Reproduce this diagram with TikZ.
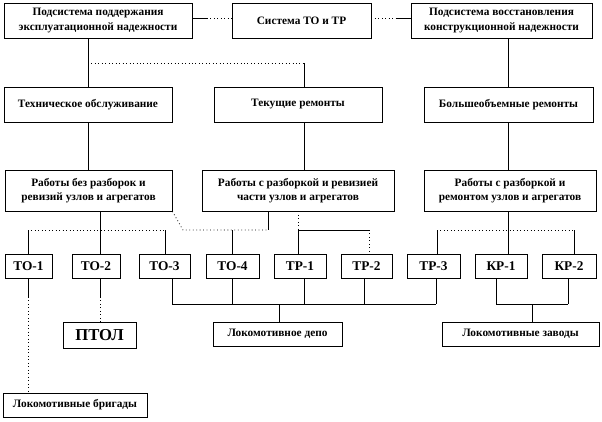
\documentclass[tikz,border=0pt]{standalone}
\usepackage{fontspec}
\setmainfont{Liberation Serif}
\begin{document}
\begin{tikzpicture}[x=0.75pt,y=-0.75pt,
  bx/.style 2 args={draw=black,line width=0.6pt,fill=white,inner sep=0pt,align=center,
     minimum width=#1*0.75pt,minimum height=#2*0.75pt,font=\fontsize{8.5}{11}\selectfont\bfseries},
  tob/.style={bx={#1}{24},font=\fontsize{10}{12}\selectfont\bfseries},
  ln/.style={line width=0.6pt},
  dl/.style={line width=0.6pt,dotted}]
\useasboundingbox (0,0) rectangle (602,421);
% top row
\node[bx={188}{35}] (A) at (98,20.5) {Подсистема поддержания\\эксплуатационной надежности};
\node[bx={139}{35}] (B) at (301.5,20.5) {Система ТО и ТР};
\node[bx={181}{35}] (C) at (501.5,20.5) {Подсистема восстановления\\конструкционной надежности};
% second row
\node[bx={168}{35}] (T1) at (88,104.5) {Техническое обслуживание};
\node[bx={168}{35}] (T2) at (298,104.5) {Текущие ремонты};
\node[bx={169}{35}] (T3) at (508.5,104.5) {Большеобъемные ремонты};
% third row
\node[bx={167}{41}] (R1) at (88.5,190.5) {Работы без разборок и\\ревизий узлов и агрегатов};
\node[bx={192}{41}] (R2) at (298,190.5) {Работы с разборкой и ревизией\\части узлов и агрегатов};
\node[bx={172}{41}] (R3) at (510,190.5) {Работы с разборкой и\\ремонтом узлов и агрегатов};
% fourth row
\node[tob={47}] (o1) at (28.5,266) {ТО-1};
\node[tob={48}] (o2) at (96,266) {ТО-2};
\node[tob={51}] (o3) at (164.5,266) {ТО-3};
\node[tob={53}] (o4) at (232.5,266) {ТО-4};
\node[tob={52}] (p1) at (300,266) {ТР-1};
\node[tob={51}] (p2) at (366.5,266) {ТР-2};
\node[tob={53}] (p3) at (433.5,266) {ТР-3};
\node[tob={52}] (k1) at (501,266) {КР-1};
\node[tob={54}] (k2) at (569,266) {КР-2};
% bottom boxes
\node[bx={73}{26},font=\fontsize{12.5}{14}\selectfont\bfseries] (ptol) at (99.5,335) {ПТОЛ};
\node[bx={129}{24}] (depo) at (277.5,334) {Локомотивное депо};
\node[bx={157}{24}] (zav) at (520.5,334) {Локомотивные заводы};
\node[bx={144}{24}] (brig) at (75,405) {Локомотивные бригады};
% junction coordinates
\coordinate (ab) at (207,18);
\coordinate (bc) at (397,18);
\coordinate (j1) at (304,63);
\coordinate (h1) at (28,230);
\coordinate (h3) at (165,230);
\coordinate (d1) at (183,230);
\coordinate (d2) at (268,230);
\coordinate (h4) at (232,230);
\coordinate (e1) at (298,230);
\coordinate (e2) at (369,230);
\coordinate (f1) at (437,230);
\coordinate (f2) at (574,230);
\coordinate (q2) at (100,230);
\coordinate (kk) at (508,230);
\coordinate (s1) at (28,297);
\coordinate (s2) at (100,297);
\coordinate (u1) at (172,304);
\coordinate (u2) at (232,304);
\coordinate (u3) at (304,304);
\coordinate (u4) at (364,304);
\coordinate (u5) at (436,304);
\coordinate (ud) at (279,304);
\coordinate (w1) at (496,304);
\coordinate (w2) at (568,304);
\coordinate (wz) at (532,304);
% top connectors
\draw[ln] (A.east |- ab) -- (ab);
\draw[dl] (ab) -- (B.west |- ab);
\draw[dl] (B.east |- bc) -- (bc);
\draw[ln] (bc) -- (C.west |- bc);
\draw[ln] (A.south -| T1.north) -- (T1.north);
\draw[dl] (j1 -| T1.north) -- (j1);
\draw[ln] (j1) -- (j1 |- T2.north);
\draw[ln] (C.south -| T3.north) -- (T3.north);
% second to third
\draw[ln] (T1.south) -- (T1.south |- R1.north);
\draw[ln] (j1 |- T2.south) -- (j1 |- R2.north);
\draw[ln] (T3.south -| kk) -- (kk |- R3.north);
% third to fourth
\draw[ln] (q2 |- R1.south) -- (q2 |- o2.north);
\draw[dl] (h1) -- (h3);
\draw[ln] (h1) -- (h1 |- o1.north);
\draw[ln] (h3) -- (h3 |- o3.north);
\draw[dl] (R1.south east) -- (d1) -- (d2);
\draw[ln] (d2 |- R2.south) -- (d2);
\draw[ln] (h4) -- (h4 |- o4.north);
\draw[dl] (e1 |- R2.south) -- (e1);
\draw[ln] (e1) -- (e1 |- p1.north);
\draw[ln] (e1) -- (e2);
\draw[dl] (e2) -- (e2 |- p2.north);
\draw[ln] (kk |- R3.south) -- (kk |- k1.north);
\draw[dl] (f1) -- (f2);
\draw[ln] (f1) -- (f1 |- p3.north);
\draw[ln] (f2) -- (f2 |- k2.north);
% fourth to bottom
\draw[ln] (s1 |- o1.south) -- (s1);
\draw[dl] (s1) -- (s1 |- brig.north);
\draw[ln] (s2 |- o2.south) -- (s2);
\draw[dl] (s2) -- (s2 |- ptol.north);
\draw[ln] (u1 |- o3.south) -- (u1);
\draw[ln] (u2 |- o4.south) -- (u2);
\draw[ln] (u3 |- p1.south) -- (u3);
\draw[ln] (u4 |- p2.south) -- (u4);
\draw[ln] (u5 |- p3.south) -- (u5);
\draw[ln] (u1) -- (u5);
\draw[ln] (ud) -- (ud |- depo.north);
\draw[ln] (w1 |- k1.south) -- (w1);
\draw[ln] (w2 |- k2.south) -- (w2);
\draw[ln] (w1) -- (w2);
\draw[ln] (wz) -- (wz |- zav.north);
\end{tikzpicture}
\end{document}
